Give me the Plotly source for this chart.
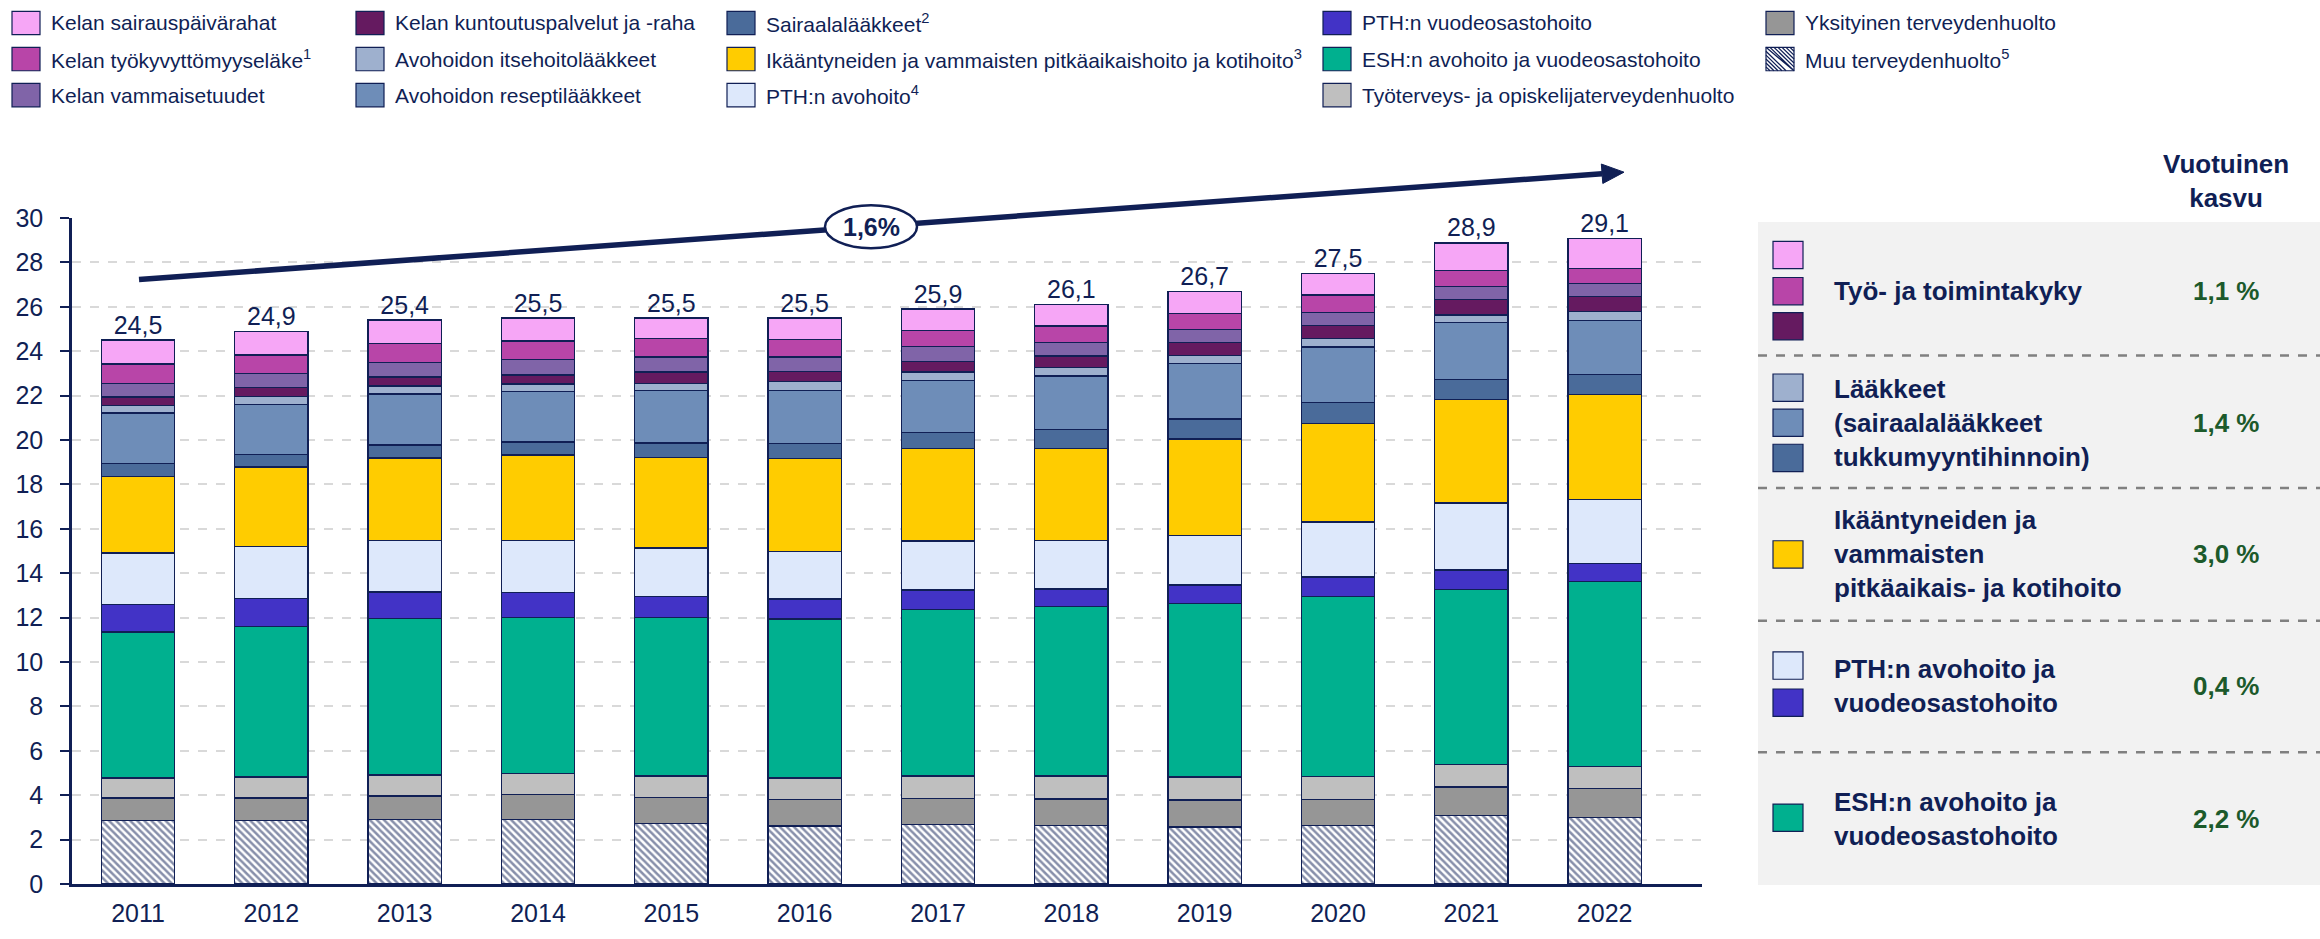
import math
import plotly.graph_objects as go

years = ["2011", "2012", "2013", "2014", "2015", "2016", "2017", "2018", "2019", "2020", "2021", "2022"]
total_values = [24.5, 24.9, 25.4, 25.5, 25.5, 25.5, 25.9, 26.1, 26.7, 27.5, 28.9, 29.1]
total_labels = ["24,5", "24,9", "25,4", "25,5", "25,5", "25,5", "25,9", "26,1", "26,7", "27,5", "28,9", "29,1"]

# stacked from bottom to top
muu = [2.85, 2.85, 2.90, 2.90, 2.71, 2.61, 2.69, 2.63, 2.57, 2.63, 3.08, 2.98]
yksityinen = [1.03, 1.03, 1.06, 1.13, 1.20, 1.20, 1.16, 1.20, 1.22, 1.18, 1.29, 1.31]
tyoterveys = [0.90, 0.94, 0.95, 0.96, 0.95, 0.97, 1.01, 1.03, 1.03, 1.03, 1.01, 0.99]
esh = [6.57, 6.77, 7.06, 7.02, 7.14, 7.16, 7.50, 7.64, 7.80, 8.12, 7.89, 8.34]
pth_vuode = [1.25, 1.28, 1.19, 1.12, 0.96, 0.90, 0.89, 0.79, 0.85, 0.87, 0.87, 0.83]
pth_avo = [2.31, 2.32, 2.32, 2.35, 2.17, 2.15, 2.20, 2.18, 2.24, 2.47, 3.02, 2.86]
ikaantyneet = [3.46, 3.59, 3.71, 3.85, 4.08, 4.18, 4.18, 4.16, 4.34, 4.45, 4.66, 4.74]
sairaala = [0.57, 0.57, 0.58, 0.58, 0.66, 0.66, 0.70, 0.84, 0.90, 0.94, 0.91, 0.89]
resepti = [2.28, 2.25, 2.30, 2.26, 2.35, 2.41, 2.35, 2.41, 2.49, 2.50, 2.55, 2.44]
itsehoito = [0.32, 0.35, 0.36, 0.35, 0.34, 0.38, 0.38, 0.38, 0.36, 0.38, 0.35, 0.40]
kuntoutus = [0.40, 0.40, 0.41, 0.41, 0.50, 0.48, 0.48, 0.52, 0.58, 0.58, 0.71, 0.68]
vammais = [0.61, 0.63, 0.65, 0.69, 0.68, 0.64, 0.66, 0.60, 0.59, 0.58, 0.58, 0.58]
tyokyvyttomyys = [0.87, 0.85, 0.86, 0.84, 0.82, 0.80, 0.74, 0.75, 0.72, 0.80, 0.72, 0.70]
sairauspaiva = [1.08, 1.07, 1.05, 1.04, 0.94, 0.96, 0.96, 0.97, 1.01, 0.97, 1.24, 1.34]

growth_text = ["Työ- ja toimintakyky", "Lääkkeet<br>(sairaalalääkkeet<br>tukkumyyntihinnoin)",
               "Ikääntyneiden ja<br>vammaisten<br>pitkäaikais- ja kotihoito",
               "PTH:n avohoito ja<br>vuodeosastohoito", "ESH:n avohoito ja<br>vuodeosastohoito"]
growth_pct = ["1,1 %", "1,4 %", "3,0 %", "0,4 %", "2,2 %"]
trend_label = "1,6%"

NAVY = "#101F55"
GREEN = "#1C5A2B"
FONT = "Arial, Liberation Sans, sans-serif"

C = {
    "muu": "#FFFFFF", "yks": "#969696", "tyo": "#BFBFBF", "esh": "#00B08F",
    "pthv": "#4233C6", "ptha": "#DDE8FB", "ika": "#FFCC00", "sair": "#4A6B9A",
    "res": "#6E8DB8", "its": "#9EB0CE", "kun": "#651A60", "vam": "#8064A8",
    "tky": "#B845A8", "spr": "#F6A6F6",
}

series = [
    (muu, "Muu terveydenhuolto", "muu"),
    (yksityinen, "Yksityinen terveydenhuolto", "yks"),
    (tyoterveys, "Työterveys- ja opiskelijaterveydenhuolto", "tyo"),
    (esh, "ESH:n avohoito ja vuodeosastohoito", "esh"),
    (pth_vuode, "PTH:n vuodeosastohoito", "pthv"),
    (pth_avo, "PTH:n avohoito", "ptha"),
    (ikaantyneet, "Ikääntyneiden ja vammaisten pitkäaikaishoito ja kotihoito", "ika"),
    (sairaala, "Sairaalalääkkeet", "sair"),
    (resepti, "Avohoidon reseptilääkkeet", "res"),
    (itsehoito, "Avohoidon itsehoitolääkkeet", "its"),
    (kuntoutus, "Kelan kuntoutuspalvelut ja -raha", "kun"),
    (vammais, "Kelan vammaisetuudet", "vam"),
    (tyokyvyttomyys, "Kelan työkyvyttömyyseläke", "tky"),
    (sairauspaiva, "Kelan sairauspäivärahat", "spr"),
]

legend_cols = [
    [("Kelan sairauspäivärahat", "spr"), ("Kelan työkyvyttömyyseläke<sup>1</sup>", "tky"),
     ("Kelan vammaisetuudet", "vam")],
    [("Kelan kuntoutuspalvelut ja -raha", "kun"), ("Avohoidon itsehoitolääkkeet", "its"),
     ("Avohoidon reseptilääkkeet", "res")],
    [("Sairaalalääkkeet<sup>2</sup>", "sair"),
     ("Ikääntyneiden ja vammaisten pitkäaikaishoito ja kotihoito<sup>3</sup>", "ika"),
     ("PTH:n avohoito<sup>4</sup>", "ptha")],
    [("PTH:n vuodeosastohoito", "pthv"), ("ESH:n avohoito ja vuodeosastohoito", "esh"),
     ("Työterveys- ja opiskelijaterveydenhuolto", "tyo")],
    [("Yksityinen terveydenhuolto", "yks"), ("Muu terveydenhuolto<sup>5</sup>", "muu")],
]
legend_col_x = [12, 356, 727, 1323, 1766]
legend_row_y = [18, 55, 92]

panel_swatches = [["spr", "tky", "kun"], ["its", "res", "sair"], ["ika"], ["ptha", "pthv"], ["esh"]]
panel_swatch_y = [[256, 293, 329], [392, 428, 464], [563], [677, 715], [833]]
panel_text_y = [293, 428, 563, 698, 834]
panel_sep_y = [359, 495, 631, 766]

# geometry in reference pixels
W, H = 2320, 939
PL, PR, PT, PB = 72, 1702, 218, 901


def fx(p):
    return (p - PL) / (PR - PL)


def fy(p):
    return (PB - p) / (PB - PT)


fig = go.Figure()
for vals, name, key in series:
    marker = dict(color=C[key], line=dict(color=NAVY, width=1.3))
    if key == "muu":
        marker["pattern"] = dict(shape="\\", fgcolor=NAVY, bgcolor="white", size=5,
                                 solidity=0.5, fillmode="overlay")
    fig.add_trace(go.Bar(x=list(range(len(years))), y=vals, name=name, marker=marker,
                         hoverinfo="y+name"))

# totals above bars
fig.add_trace(go.Scatter(x=list(range(len(years))), y=total_values, mode="text", text=total_labels,
                         textposition="top center", textfont=dict(size=25, color=NAVY),
                         cliponaxis=False, hoverinfo="skip"))

shapes = []
annotations = []

# trend arrow (drawn as shapes so the ellipse sits on top)
tail = (139, 281)
tip = (1624, 171)
dx, dy = tip[0] - tail[0], tip[1] - tail[1]
ln = math.hypot(dx, dy)
ux, uy = dx / ln, dy / ln
nx, ny = -uy, ux
base = (tip[0] - 22 * ux, tip[1] - 22 * uy)
shapes.append(dict(type="line", xref="paper", yref="paper", x0=fx(tail[0]), y0=fy(tail[1]),
                   x1=fx(base[0]), y1=fy(base[1]), line=dict(color=NAVY, width=5.5)))
tri = "M %.5f %.5f L %.5f %.5f L %.5f %.5f Z" % (
    fx(tip[0]), fy(tip[1]),
    fx(base[0] + 10 * nx), fy(base[1] + 10 * ny),
    fx(base[0] - 10 * nx), fy(base[1] - 10 * ny))
shapes.append(dict(type="path", xref="paper", yref="paper", path=tri, fillcolor=NAVY,
                   line=dict(color=NAVY, width=1)))
ec = (871, 227)
shapes.append(dict(type="circle", xref="paper", yref="paper", x0=fx(ec[0] - 46), x1=fx(ec[0] + 46),
                   y0=fy(ec[1] + 22), y1=fy(ec[1] - 22), fillcolor="white",
                   line=dict(color=NAVY, width=2.5)))
annotations.append(dict(x=fx(ec[0]), y=fy(ec[1]), xref="paper", yref="paper",
                        text="<b>" + trend_label + "</b>", showarrow=False,
                        xanchor="center", yanchor="middle", font=dict(size=25, color=NAVY)))


def swatch(x, yc, key, w, h):
    shapes.append(dict(type="rect", xref="paper", yref="paper", x0=fx(x), x1=fx(x + w),
                       y0=fy(yc + h / 2), y1=fy(yc - h / 2),
                       fillcolor=C[key], line=dict(color=NAVY, width=1.2)))
    if key == "muu":
        top = yc - h / 2
        path = ""
        step = 4
        c = -h + step
        while c < w:
            if c >= 0:
                a = (x + c, top)
                b = (x + w, top + min(h, w - c))
            else:
                a = (x, top - c)
                b = (x + min(w, h + c), top + h)
            path += "M %.5f %.5f L %.5f %.5f " % (fx(a[0]), fy(a[1]), fx(b[0]), fy(b[1]))
            c += step
        shapes.append(dict(type="path", xref="paper", yref="paper", path=path,
                           line=dict(color=NAVY, width=1.3)))


# legend at top
for cx, col in zip(legend_col_x, legend_cols):
    for ry, (label, key) in zip(legend_row_y, col):
        swatch(cx, ry, key, 28, 24)
        annotations.append(dict(x=fx(cx + 37), y=fy(ry), xref="paper", yref="paper", text=label,
                                showarrow=False, xanchor="left", yanchor="middle",
                                font=dict(size=21, color=NAVY)))

# right panel
shapes.insert(0, dict(type="rect", xref="paper", yref="paper", x0=fx(1758), x1=fx(2330),
                      y0=fy(902), y1=fy(222), fillcolor="#F2F2F2", line=dict(width=0),
                      layer="below"))
for sy in panel_sep_y:
    shapes.append(dict(type="line", xref="paper", yref="paper", x0=fx(1758), x1=fx(2330),
                       y0=fy(sy), y1=fy(sy), line=dict(color="#808080", width=2.5, dash="dash")))
annotations.append(dict(x=fx(2226), y=fy(180), xref="paper", yref="paper",
                        text="<b>Vuotuinen<br>kasvu</b>", showarrow=False, xanchor="center",
                        yanchor="middle", font=dict(size=26, color=NAVY)))
for keys, ys, txt, pct, ty in zip(panel_swatches, panel_swatch_y, growth_text, growth_pct, panel_text_y):
    for k, yy in zip(keys, ys):
        swatch(1773, yy, k, 30, 28)
    annotations.append(dict(x=fx(1832), y=fy(ty), xref="paper", yref="paper", text="<b>" + txt + "</b>",
                            showarrow=False, xanchor="left", yanchor="middle", align="left",
                            font=dict(size=26, color=NAVY)))
    annotations.append(dict(x=fx(2226), y=fy(ty), xref="paper", yref="paper", text="<b>" + pct + "</b>",
                            showarrow=False, xanchor="center", yanchor="middle",
                            font=dict(size=26, color=GREEN)))

fig.update_layout(
    barmode="stack",
    bargap=0.45,
    width=W, height=H,
    margin=dict(l=PL, r=W - PR, t=PT, b=H - PB, pad=0),
    paper_bgcolor="white", plot_bgcolor="white",
    showlegend=False,
    font=dict(family=FONT, color=NAVY),
    shapes=shapes,
    annotations=annotations,
)
fig.update_xaxes(range=[-0.495, 11.73], tickmode="array", tickvals=list(range(len(years))),
                 ticktext=years, showline=True, linecolor=NAVY, linewidth=2.5,
                 ticks="", tickfont=dict(size=25, color=NAVY), ticklabelstandoff=5, showgrid=False)
fig.update_yaxes(range=[0, 30], dtick=2, showline=True, linecolor=NAVY, linewidth=2.5,
                 ticks="outside", ticklen=9, tickcolor=NAVY, tickwidth=2,
                 tickfont=dict(size=25, color=NAVY), ticklabelstandoff=12,
                 showgrid=True, gridcolor="#D9D9D9", griddash="dash", gridwidth=1.5, zeroline=False)

# drop the default page margin so the figure sits at the window's corner
fig.write_html("out.html", config={"displayModeBar": False},
               post_script="document.body.style.margin='0px';")
